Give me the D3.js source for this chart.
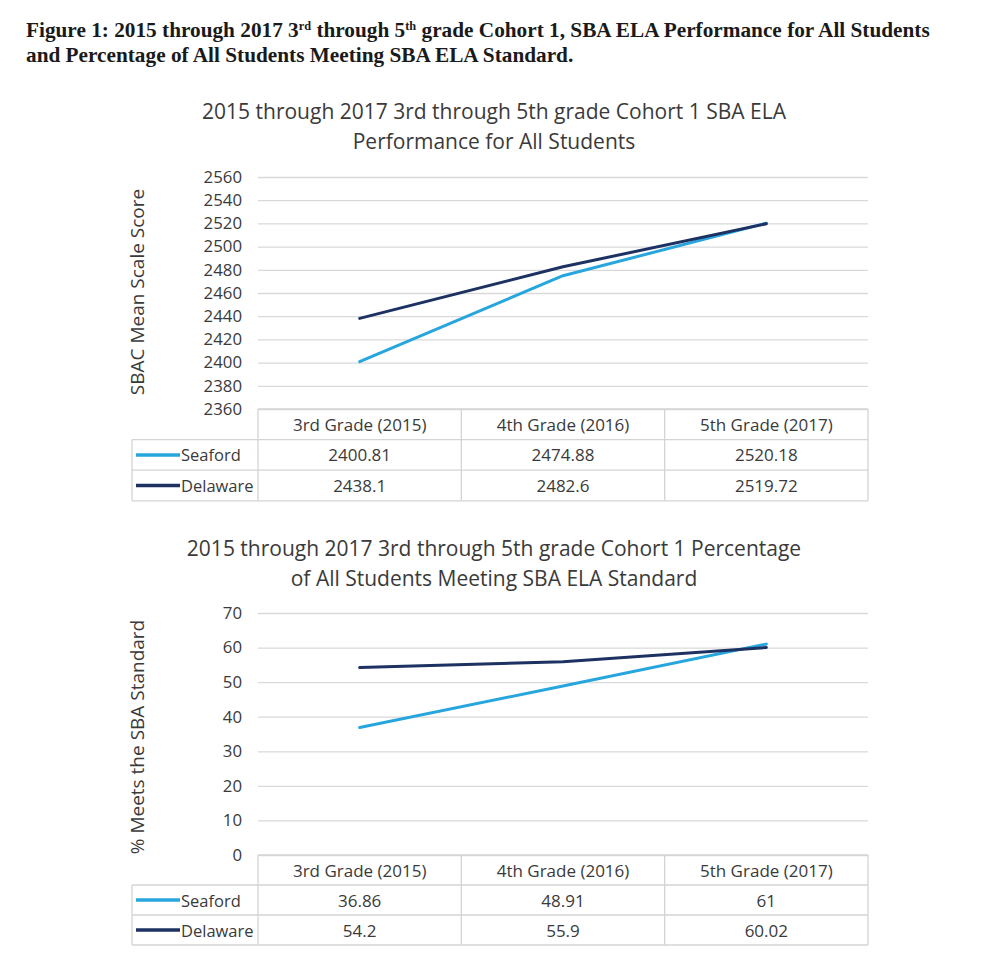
<!DOCTYPE html>
<html>
<head>
<meta charset="utf-8">
<script src="https://cdn.jsdelivr.net/npm/d3@7"></script>
<style>
  body { margin: 0; background: #fff; }
  text { font-family: 'Open Sans', 'Noto Sans', sans-serif; }
</style>
</head>
<body>
<script>
// data
const grades = ['3rd Grade (2015)', '4th Grade (2016)', '5th Grade (2017)'];
const seriesNames = ['Seaford', 'Delaware'];
const seriesColors = ['#27a6de', '#1d3262'];

const scoreSeaford = [2400.81, 2474.88, 2520.18];
const scoreDelaware = [2438.1, 2482.6, 2519.72];
const scoreTicks = [2360, 2380, 2400, 2420, 2440, 2460, 2480, 2500, 2520, 2540, 2560];

const pctSeaford = [36.86, 48.91, 61];
const pctDelaware = [54.2, 55.9, 60.02];
const pctTicks = [0, 10, 20, 30, 40, 50, 60, 70];

const W = 998, H = 968;
const textCol = '#3a3a3a';
const svg = d3.select('body').append('svg')
  .attr('width', W)
  .attr('height', H);

// figure caption (serif, bold) with superscripts
const caption = svg.append('g').attr('class', 'caption');
const cap1 = caption.append('text')
  .attr('x', 26).attr('y', 37)
  .style('font-family', "'Liberation Serif', serif")
  .style('font-weight', 'bold')
  .style('font-size', '19px')
  .attr('fill', '#1a1a1a');
cap1.append('tspan').text('Figure 1: 2015 through 2017 3');
cap1.append('tspan').attr('baseline-shift', 'super').style('font-size', '11px').text('rd');
cap1.append('tspan').text(' through 5');
cap1.append('tspan').attr('baseline-shift', 'super').style('font-size', '11px').text('th');
cap1.append('tspan').text(' grade Cohort 1, SBA ELA Performance for All Students');

const cap2 = caption.append('text')
  .attr('x', 26).attr('y', 62)
  .style('font-family', "'Liberation Serif', serif")
  .style('font-weight', 'bold')
  .style('font-size', '19px')
  .attr('fill', '#1a1a1a')
  .text('and Percentage of All Students Meeting SBA ELA Standard.');

// squeeze caption to the width it has in the figure
const capLen = cap1.node().getComputedTextLength();
const capFs = 19 * 904 / capLen;
caption.selectAll('text').style('font-size', capFs + 'px');
cap1.selectAll('tspan[baseline-shift]').style('font-size', (capFs * 0.58) + 'px');

const x = d3.scaleBand()
  .domain(grades)
  .range([258, 868]);

function drawChart(opts) {
  const g = svg.append('g').attr('class', 'chart');

  const y = d3.scaleLinear()
    .domain(d3.extent(opts.ticks))
    .range([opts.bottom, opts.top]);

  // title
  g.selectAll('text.title')
    .data(opts.title)
    .enter()
    .append('text')
    .attr('class', 'title')
    .attr('x', 494)
    .attr('y', (d, i) => opts.titleY + i * 30)
    .attr('text-anchor', 'middle')
    .attr('dominant-baseline', 'central')
    .attr('fill', textCol)
    .style('font-size', '21px')
    .text(d => d);

  // gridlines + tick labels
  const axis = g.append('g')
    .attr('transform', `translate(${x.range()[0]},0)`)
    .call(d3.axisLeft(y)
      .tickValues(opts.ticks)
      .tickSize(-(x.range()[1] - x.range()[0]))
      .tickPadding(16)
      .tickFormat(d3.format('d')));
  axis.select('.domain').remove();
  axis.selectAll('line').attr('stroke', '#d9d9d9').attr('stroke-width', 1.3);
  axis.selectAll('text')
    .attr('fill', textCol)
    .style('font-size', '16.8px')
    .style('font-family', "'Open Sans', sans-serif");

  // y axis title
  g.append('text')
    .attr('transform', `translate(137,${opts.labelY}) rotate(-90)`)
    .attr('text-anchor', 'middle')
    .attr('dominant-baseline', 'central')
    .attr('fill', textCol)
    .style('font-size', '19px')
    .text(opts.yLabel);

  // data table below the plot
  const rowH = opts.rowH;
  const t0 = opts.bottom;
  const tBottom = t0 + rowH * 3;
  const table = g.append('g').attr('class', 'table');
  const borderCol = '#d4d4d4';

  table.append('line')
    .attr('x1', x.range()[0]).attr('x2', x.range()[1])
    .attr('y1', t0).attr('y2', t0);
  [1, 2, 3].forEach(r => {
    table.append('line')
      .attr('x1', 132).attr('x2', x.range()[1])
      .attr('y1', t0 + r * rowH).attr('y2', t0 + r * rowH);
  });
  table.append('line')
    .attr('x1', 132).attr('x2', 132)
    .attr('y1', t0 + rowH).attr('y2', tBottom);
  grades.forEach(c => {
    table.append('line')
      .attr('x1', x(c)).attr('x2', x(c))
      .attr('y1', t0).attr('y2', tBottom);
  });
  table.append('line')
    .attr('x1', x.range()[1]).attr('x2', x.range()[1])
    .attr('y1', t0).attr('y2', tBottom);
  table.selectAll('line').attr('stroke', borderCol).attr('stroke-width', 1.3);

  table.selectAll('text.head')
    .data(grades)
    .enter()
    .append('text')
    .attr('class', 'head')
    .attr('x', d => x(d) + x.bandwidth() / 2)
    .attr('y', t0 + rowH / 2)
    .attr('text-anchor', 'middle')
    .attr('dominant-baseline', 'central')
    .attr('fill', textCol)
    .style('font-size', '17px')
    .text(d => d);

  opts.series.forEach((vals, s) => {
    const cy = t0 + rowH * (s + 1) + rowH / 2;
    table.append('line')
      .attr('x1', 136).attr('x2', 180)
      .attr('y1', cy).attr('y2', cy)
      .attr('stroke', seriesColors[s])
      .attr('stroke-width', 3.5);
    table.append('text')
      .attr('x', 181)
      .attr('y', cy)
      .attr('dominant-baseline', 'central')
      .attr('fill', textCol)
      .style('font-size', '16.5px')
      .text(seriesNames[s]);
    table.selectAll(null)
      .data(vals)
      .enter()
      .append('text')
      .attr('x', (d, i) => x(grades[i]) + x.bandwidth() / 2)
      .attr('y', cy)
      .attr('text-anchor', 'middle')
      .attr('dominant-baseline', 'central')
      .attr('fill', textCol)
      .style('font-size', '17px')
      .text(d => String(d));
  });

  // lines
  const line = d3.line()
    .x((d, i) => x(grades[i]) + x.bandwidth() / 2)
    .y(d => y(d));

  g.selectAll('path.series')
    .data(opts.series)
    .enter()
    .append('path')
    .attr('class', 'series')
    .attr('d', line)
    .attr('fill', 'none')
    .attr('stroke', (d, i) => seriesColors[i])
    .attr('stroke-width', 3)
    .attr('stroke-linecap', 'round')
    .attr('stroke-linejoin', 'round');
}

drawChart({
  title: ['2015 through 2017 3rd through 5th grade Cohort 1 SBA ELA', 'Performance for All Students'],
  titleY: 111,
  ticks: scoreTicks,
  top: 177,
  bottom: 409,
  rowH: 30.6,
  yLabel: 'SBAC Mean Scale Score',
  labelY: 292,
  series: [scoreSeaford, scoreDelaware]
});

drawChart({
  title: ['2015 through 2017 3rd through 5th grade Cohort 1 Percentage', 'of All Students Meeting SBA ELA Standard'],
  titleY: 548,
  ticks: pctTicks,
  top: 613,
  bottom: 855,
  rowH: 30,
  yLabel: '% Meets the SBA Standard',
  labelY: 737,
  series: [pctSeaford, pctDelaware]
});
</script>
</body>
</html>
